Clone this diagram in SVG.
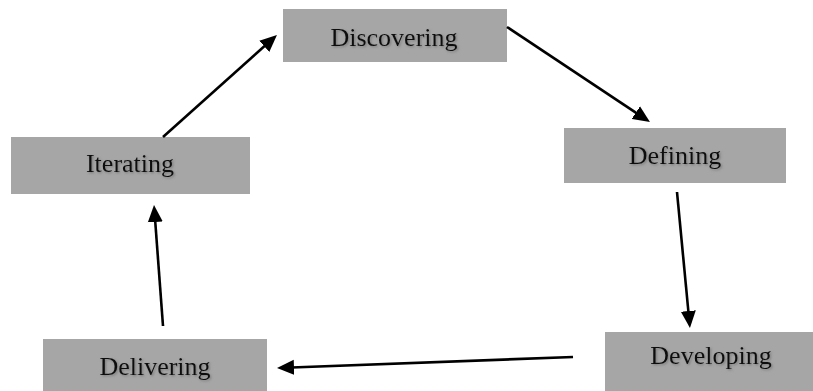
<svg xmlns="http://www.w3.org/2000/svg" width="813" height="391" viewBox="0 0 813 391">
<style>
.box{fill:#a6a6a6;}
.lbl{font-family:"Liberation Serif","Times New Roman",serif;font-size:26px;fill:#111;text-anchor:middle;filter:url(#sh);}
.conn{stroke:#000;stroke-width:2.6;fill:none;marker-end:url(#ah);}
</style>
<defs>
<filter id="sh" x="-10%" y="-30%" width="120%" height="160%">
<feDropShadow dx="1.2" dy="1.2" stdDeviation="0.9" flood-color="#555" flood-opacity="0.55"/>
</filter>
<marker id="ah" markerUnits="userSpaceOnUse" markerWidth="18" markerHeight="16" refX="9" refY="8" orient="auto">
<path d="M0,0.5 L17,8 L0,15.5 Z" fill="#000"/>
</marker>
</defs>
<g id="discovering"><rect class="box" x="283" y="9" width="224" height="53"/><text class="lbl" x="394" y="46">Discovering</text></g>
<g id="defining"><rect class="box" x="564" y="128" width="222" height="55"/><text class="lbl" x="675" y="164">Defining</text></g>
<g id="developing"><rect class="box" x="605" y="332" width="208" height="59"/><text class="lbl" x="711" y="364">Developing</text></g>
<g id="delivering"><rect class="box" x="43" y="339" width="224" height="52"/><text class="lbl" x="155" y="375">Delivering</text></g>
<g id="iterating"><rect class="box" x="11" y="137" width="239" height="57"/><text class="lbl" x="130" y="172">Iterating</text></g>
<g id="connectors">
<line class="conn" x1="163" y1="137" x2="271" y2="40.3"/>
<line class="conn" x1="507" y1="27" x2="643.3" y2="117.6"/>
<line class="conn" x1="677" y1="192" x2="689.2" y2="320"/>
<line class="conn" x1="573" y1="357" x2="285" y2="367.7"/>
<line class="conn" x1="163" y1="326" x2="154.6" y2="213"/>
</g>
</svg>
